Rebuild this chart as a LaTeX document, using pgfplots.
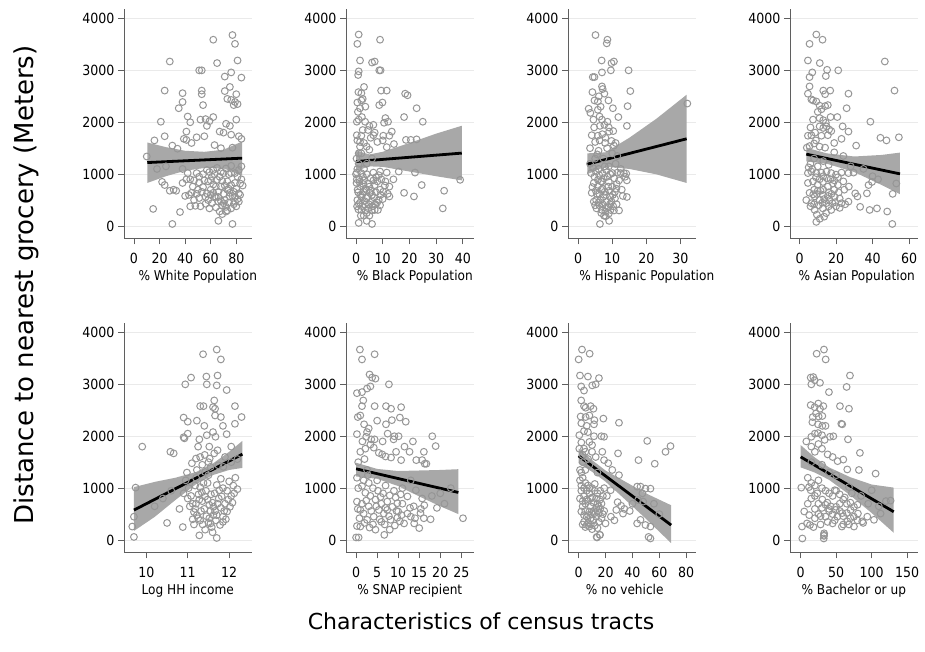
\documentclass[border=0pt]{standalone}
\usepackage{fontspec}
\setmainfont{DejaVu Sans}
\newfontfamily\tickfont[FakeStretch=0.9]{DejaVu Sans}
\usepackage{pgfplots}
\pgfplotsset{compat=1.18}
\definecolor{mk}{RGB}{150,150,150}
\definecolor{band}{RGB}{168,168,168}
\definecolor{axc}{RGB}{95,95,95}
\definecolor{grd}{RGB}{234,234,234}
\pgfplotsset{
 panel/.style={
  scale only axis, width=127.5pt, height=229.4pt, anchor=south west,
  ymin=-240, ymax=4180, ytick={0,1000,2000,3000,4000},
  axis lines*=left, axis line style={axc, line width=0.9pt, -},
  tick align=outside, major tick length=6pt, tick style={axc, line width=0.8pt},
  ymajorgrids, grid style={grd, line width=0.8pt},
  scaled ticks=false,
  /pgf/number format/1000 sep={},
  /pgf/number format/assume math mode=true,
  tick label style={font=\tickfont\fontsize{14}{16}\selectfont},
  x tick label style={yshift=-5.3pt},
  label style={font=\tickfont\fontsize{13.5}{16}\selectfont},
  xlabel style={at={(axis description cs:0.5,0)}, anchor=north, yshift=-28pt},
 },
 pts/.style={only marks, mark=o, mark size=3.4pt, mark options={draw=mk, line width=1pt}},
 bnd/.style={fill=band, draw=none},
 fit/.style={black, line width=2.8pt, no marks},
}
\begin{document}
\begin{tikzpicture}
\useasboundingbox (0,0) rectangle (925pt,652pt);
% ---------- Panel 1: White
\begin{axis}[panel, at={(124pt,413.5pt)}, xmin=-7.8, xmax=91.9, xtick={0,20,40,60,80},
  xlabel={\% White Population}, xlabel style={xshift=10pt}]
\addplot[pts] coordinates {
(77,3680)(79,3510)(62,3590)(28,3170)(81,3190)(65,3140)(51,3000)(53,3000)(76,2960)(71,2880)(84,2860)(75,2680)(24,2610)(38,2560)(53,2610)(53,2540)(71,2600)(80,2540)(73,2450)(76,2430)(79,2390)(81,2350)(78,2330)(38,2390)(35,2270)(54,2330)(42,2110)(44,2000)(21,2010)(52,2050)(56,2060)(59,2020)(62,2100)(57,1930)(72,1970)(75,1930)(80,2050)(67,1820)(70,1800)(76,1760)(41,1820)(39,1680)(41,1660)(49,1710)(55,1730)(82,1730)(24,1730)(16,1650)(10,1340)(30,1550)(63,1560)(45,1600)(34,1490)(68,1500)(77,1510)(84,1680)
(24,790)(22,850)(28,680)(33,680)(38,830)(42,1020)(44,900)(40,580)(43,600)(49,620)(51,540)(47,500)(48,390)(44,380)(36,270)(15,330)(30,40)(54,1000)(57,1080)(59,1040)(51,840)(54,750)(57,630)(60,700)(63,570)(66,660)(68,760)(58,500)(61,440)(59,340)(66,470)(67,280)(66,100)(77,40)(72,280)(70,1020)(72,1110)(76,1160)(79,1020)(81,950)(73,860)(76,790)(79,830)(82,630)(78,660)(75,570)(71,500)(79,470)(82,470)(69,400)(72,370)(76,340)(49,1020)(51,950)(41,900)(18,1100)(25,1150)(62,800)(65,890)(46,760)(84,900)(85,780)(70,620)(74,720)(80,720)(64,360)(56,430)(38,1100)(31,700)
(61,950)(63,1000)(65,1120)(67,950)(69,870)(71,780)(73,700)(75,640)(77,580)(79,560)(81,520)(83,600)(62,640)(64,560)(66,560)(68,480)(70,440)(74,450)(78,420)(80,380)(82,1080)(84,1150)(74,1000)(68,1050)(60,880)(62,1080)(55,880)(53,660)(50,700)(47,880)(45,640)(56,560)(73,300)(69,230)(60,600)(76,1020)(83,820)(64,760)(58,860)(52,380)
};
\addplot[bnd] coordinates {(10.4,1610)(25,1520)(40,1450)(55,1430)(70,1470)(84.6,1630)(84.6,975)(70,1110)(55,1118)(40,1065)(25,960)(10.4,830)};
\addplot[fit] coordinates {(10.4,1223)(84.6,1308)};
\end{axis}
% ---------- Panel 2: Black
\begin{axis}[panel, at={(346pt,413.5pt)}, xmin=-3.75, xmax=44, xtick={0,10,20,30,40},
  xlabel={\% Black Population}, xlabel style={xshift=5pt}]
\addplot[pts] coordinates {
(1,3690)(0.5,3510)(9,3590)(1.5,3190)(6,3150)(7,3170)(1,2980)(0.8,2910)(8.7,3000)(9.2,3000)(3,2680)(0.9,2580)(2,2560)(9.4,2610)(11.5,2610)(18.4,2550)(19.3,2520)(0.5,2380)(2,2420)(2.5,2450)(1.5,2270)(8.7,2330)(9.9,2380)(22.7,2270)(1,2050)(0.3,2010)(3.4,2010)(5,1930)(6.5,1950)(11,2080)(12,2010)(10.5,1990)(18,2100)(25,2010)(0.3,1750)(2,1740)(6.5,1750)(10.2,1740)(12.5,1740)(13.4,1820)(14.2,1580)(18.7,1660)(20.5,1660)(22.7,1670)(1.5,1530)(4,1530)(5,1470)(0.5,1650)(3,1600)(8,1620)(0.2,1300)(1,1200)(2,1400)(3,1100)(0,1000)
(0.3,1030)(2,1020)(4,1000)(6.5,1030)(9,1050)(11.5,1030)(22.1,1030)(0.2,830)(1.5,760)(2.7,810)(5,760)(7,790)(9,700)(10.2,660)(11.9,620)(12.5,570)(18,640)(21.7,570)(24.6,790)(33,680)(39,890)(32.5,340)(0.5,500)(1.5,450)(3.4,410)(4.6,340)(5.9,300)(2,310)(4,250)(7,310)(8.2,310)(6,470)(8.5,500)(10,520)(1,60)(4,100)(6,40)(0.8,650)(2.4,610)(4,690)(6,600)(7.5,650)(1.2,900)(3,880)(5.5,920)(8,860)(2,560)(3.8,540)(0.4,380)(1.8,200)(5,200)(9,400)(11,860)(14,900)(16,1050)
(0.5,1100)(1,1400)(1.5,1620)(2.5,1850)(0.7,2200)(2.2,2100)(3.5,2300)(4.5,1850)(5.5,1700)(7,1800)(0.3,900)(1.3,850)(2.6,950)(3.5,720)(4.5,820)(5.5,680)(6.5,880)(7.5,940)(8.5,980)(9.5,900)(0.6,700)(1.6,600)(2.8,660)(3.2,480)(4.3,560)(5.2,640)(6.8,550)(7.9,450)(9.2,600)(1.1,420)(2.3,380)(3.6,300)(4.8,420)(6.2,380)(7.2,420)(0.9,320)(2.9,200)(10.8,780)(12.5,760)(10,1650)(11.5,1520)(6,1300)(4,1200)
};
\addplot[bnd] coordinates {(0,1450)(5,1380)(10,1430)(20,1600)(30,1780)(39.6,1932)(39.6,880)(30,960)(20,1050)(10,1140)(5,1150)(0,1060)};
\addplot[fit] coordinates {(0,1243)(39.6,1405)};
\end{axis}
% ---------- Panel 3: Hispanic
\begin{axis}[panel, at={(568pt,413.5pt)}, xmin=-2.95, xmax=34.4, xtick={0,10,20,30},
  xlabel={\% Hispanic Population}, xlabel style={xshift=15pt}]
\addplot[pts] coordinates {
(5.1,3680)(8.6,3590)(8.4,3520)(6.9,3190)(9.8,3140)(10.5,3170)(7,2960)(9.6,3000)(14.8,3000)(4.3,2870)(4.8,2870)(7,2690)(7.2,2640)(7.7,2550)(15.3,2600)(4.2,2580)(4.8,2420)(5.8,2400)(6.1,2500)(8.9,2420)(14.5,2310)(3.1,2260)(3.6,2180)(5.8,2240)(6.3,2110)(10.2,2270)(11.8,2100)(32,2360)(4.5,2050)(7,2050)(7.7,1950)(8.6,2010)(6.4,1930)(14.3,1930)(4,1750)(5.8,1740)(7.1,1770)(9.1,1820)(10.3,1830)(5,1620)(6.3,1650)(7.9,1600)(9.8,1640)(11,1600)(3.5,1500)(6,1450)(8.5,1500)(10,1400)
(3.8,1020)(4.8,950)(5.8,890)(7.2,1010)(8.6,950)(10.1,1020)(11.5,1030)(12.5,1020)(13.4,1020)(14.1,1010)(14.3,880)(4.6,830)(5.8,760)(6.8,700)(7.8,660)(8.8,760)(10,760)(10.8,660)(9.4,560)(7.4,560)(6.5,500)(8.4,470)(9.8,470)(10.8,530)(5.3,500)(13.1,580)(14.3,560)(4.6,470)(5.4,340)(7,310)(8,280)(9.5,310)(10.5,300)(8.9,370)(6.4,40)(9.1,100)(3.5,1200)(5,1300)(6,1100)(9,1150)(11,1200)(12,880)(4,640)(5.5,620)(7,860)(9,850)(11.3,810)(6.2,400)(8.1,190)(12,300)
(4.4,1120)(5.2,1050)(6.2,980)(7.5,920)(8.2,1080)(9.4,1000)(10.6,920)(4.2,750)(5.2,680)(6.2,620)(7.2,720)(8.2,600)(9.1,680)(10.2,600)(11.2,720)(5,400)(6,450)(7.2,420)(8.2,350)(9.3,420)(10.3,380)(11.3,420)(6.8,250)(7.6,200)(9,240)(5.6,1380)(7.4,1300)(8,1700)(9,1900)(10.5,1550)(4.7,1900)(6.6,2300)(11.5,1350)(12.5,1100)(13.8,950)(12.8,700)(7.8,1150)(6.7,860)
};
\addplot[bnd] coordinates {(2.7,1400)(8,1420)(15,1700)(23,2070)(31.8,2530)(31.8,830)(23,995)(15,1100)(8,1145)(2.7,1000)};
\addplot[fit] coordinates {(2.7,1192)(31.8,1681)};
\end{axis}
% ---------- Panel 4: Asian
\begin{axis}[panel, at={(790pt,413.5pt)}, xmin=-5.2, xmax=64.6, xtick={0,20,40,60},
  xlabel={\% Asian Population}, xlabel style={xshift=3pt}]
\addplot[pts] coordinates {
(9.2,3690)(12.6,3590)(5.5,3510)(4.6,3190)(11.1,3140)(46.7,3170)(7,2960)(5.5,2870)(15.1,3010)(21.2,3000)(14.4,2890)(5.5,2690)(4.6,2550)(6.5,2440)(13,2610)(14,2540)(16.8,2610)(26.8,2550)(52,2610)(7.4,2420)(9.2,2400)(11,2320)(14,2310)(15.5,2330)(25.8,2270)(7.4,2050)(11,2080)(13,2040)(14.4,1990)(20.7,2100)(23.6,1920)(26.8,1820)(38.8,2010)(11,1920)(13,1890)(14.8,1920)(16.2,1860)(4.6,1740)(6.5,1750)(12,1740)(15.5,1750)(17.4,1830)(23,1680)(31,1550)(44.3,1700)(47.6,1650)(54.4,1710)(4,1510)(5.5,1540)(8,1590)(11,1530)(14,1510)(9,1650)(19,1600)
(4.6,1020)(6.5,1050)(9.2,1020)(12,1030)(14.8,1050)(17.4,1020)(20,990)(23,1030)(26.8,1020)(29.6,1030)(37.8,790)(39.7,850)(4.6,830)(7.4,860)(10,800)(12.8,850)(15.5,760)(18.3,820)(21,790)(24,860)(30.5,630)(31.7,570)(36.9,630)(3.7,500)(6.5,440)(8.3,570)(11,500)(12.8,600)(14.6,440)(16.5,500)(19.2,560)(22,530)(23,440)(26.8,470)(33.2,370)(38.4,310)(42.4,340)(48,280)(8.3,310)(12.8,340)(14.6,250)(17.4,310)(20,380)(9.2,80)(11.1,140)(50.8,40)(6,1200)(8,1300)(10,1150)(13,1250)(16,1180)(10,680)(13,700)(16,650)(19,700)(8,700)(43,900)(51,620)(53,820)
(5,1130)(7,1100)(9,940)(11,900)(13,960)(15,920)(17,900)(19,880)(21,940)(5.5,640)(7.5,610)(9.5,620)(11.5,680)(13.5,520)(15.5,580)(17.5,620)(19.5,460)(21.5,650)(24.5,700)(27,760)(6,380)(8,420)(10.5,400)(12.5,450)(16,380)(18,440)(22,350)(25,420)(9.5,220)(13.5,180)(6,1900)(8.5,1800)(10,2200)(12,2250)(17,2100)(19,1420)(24,1350)(28,1150)(35,1100)(40,960)
};
\addplot[bnd] coordinates {(3.7,1510)(15,1400)(30,1340)(45,1370)(55,1415)(55,615)(45,790)(30,1040)(15,1200)(3.7,1245)};
\addplot[fit] coordinates {(3.7,1385)(55,1005)};
\end{axis}
% ---------- Panel 5: Log HH income
\begin{axis}[panel, at={(124pt,99.5pt)}, xmin=9.46, xmax=12.54, xtick={10,11,12},
  xlabel={Log HH income}]
\addplot[pts] coordinates {
(11.37,3580)(11.70,3670)(11.80,3480)(11.08,3130)(10.94,3000)(11.45,3150)(11.46,3000)(11.72,3170)(11.70,2980)(11.94,2890)(11.30,2580)(11.38,2580)(11.61,2560)(11.66,2530)(11.64,2690)(12.14,2580)(10.90,2360)(11.00,2280)(11.22,2300)(11.66,2400)(11.80,2370)(12.14,2240)(12.30,2370)(10.90,1980)(10.92,1960)(11.28,1940)(11.46,2020)(11.61,2080)(11.67,1990)(11.94,2040)(9.90,1800)(10.58,1700)(10.66,1670)(11.20,1570)(11.30,1600)(11.41,1640)(11.53,1570)(11.64,1670)(11.72,1730)(10.98,1300)(11.22,1350)(11.42,1310)(11.55,1410)(11.74,1440)(11.86,1410)(12.05,1500)(12.2,1560)(11.1,1480)(11.35,1450)(11.5,1500)
(9.74,1010)(9.70,450)(9.66,260)(9.70,60)(10.50,330)(10.88,250)(11.28,90)(11.70,40)(10.9,900)(11.0,800)(11.05,650)(11.15,540)(11.2,700)(11.26,880)(11.3,1020)(11.35,750)(11.4,600)(11.45,460)(11.5,330)(11.55,560)(11.6,720)(11.65,900)(11.7,1060)(11.75,800)(11.8,620)(11.85,450)(11.9,700)(11.95,950)(12.0,1130)(12.05,850)(12.1,1050)(12.15,1200)(12.2,980)(11.25,420)(11.36,300)(11.12,400)(11.48,1100)(11.58,250)(11.62,480)(11.68,380)(11.78,290)(11.42,840)(11.32,560)(11.18,1050)(10.95,1150)(10.8,600)(10.6,950)(10.4,800)(10.2,650)(11.85,1000)(11.95,550)(11.52,680)
(11.02,1000)(11.08,850)(11.12,700)(11.18,600)(11.22,480)(11.28,780)(11.34,920)(11.38,1100)(11.44,950)(11.48,780)(11.52,420)(11.56,880)(11.62,640)(11.66,560)(11.72,700)(11.76,960)(11.82,840)(11.88,560)(11.92,400)(11.98,780)(12.02,640)(12.08,720)(12.12,900)(11.15,300)(11.3,380)(11.42,200)(11.55,320)(11.7,480)(11.85,350)(11.6,150)(11.2,1200)(11.5,1250)(11.8,1180)(11.9,1600)(12.05,1800)(11.52,1800)(11.25,1800)(11.0,2050)(11.4,2200)(11.85,2200)
};
\addplot[bnd] coordinates {(9.7,1020)(10.2,1120)(10.7,1200)(11.2,1310)(11.6,1470)(12.0,1700)(12.32,1910)(12.32,1390)(12.0,1350)(11.6,1250)(11.2,1075)(10.7,770)(10.2,445)(9.7,175)};
\addplot[fit] coordinates {(9.7,577)(12.32,1654)};
\end{axis}
% ---------- Panel 6: SNAP
\begin{axis}[panel, at={(346pt,99.5pt)}, xmin=-2.4, xmax=27.9, xtick={0,5,10,15,20,25},
  xlabel={\% SNAP recipient}]
\addplot[pts] coordinates {
(0.9,3670)(1.4,3480)(4.4,3580)(3.2,3190)(3.8,3130)(4.6,3110)(3.4,2960)(2.6,2920)(0.2,2830)(1.4,2850)(7.8,3000)(1.7,2690)(1.4,2580)(4.4,2580)(7.1,2580)(8.3,2530)(10.7,2560)(0.4,2370)(1,2400)(1.9,2230)(7.1,2230)(8.5,2310)(10.4,2360)(11.8,2280)(0.2,2040)(2.6,2080)(2.4,1990)(3.6,1940)(4.4,1940)(9.1,2000)(10.1,2000)(8.9,1940)(18.1,2000)(18.9,1810)(16.1,1700)(15.7,1540)(16.3,1470)(16.7,1470)(1,1700)(2.2,1760)(3.4,1840)(4.2,1780)(5.4,1680)(6.2,1650)(7,1610)(8.3,1590)(10.7,1540)(12.7,1700)(14.3,1540)(0.5,1500)(2,1560)
(0.2,1200)(1.4,1040)(2.2,910)(3.4,850)(4.6,780)(5.8,830)(7.4,740)(9.8,710)(12.2,840)(13.7,650)(15.3,520)(16.1,420)(17.7,400)(19.2,620)(14.2,960)(15.7,800)(25.4,420)(0.2,740)(1,580)(1.8,510)(2.6,390)(4.2,450)(5.4,580)(6.6,510)(7.4,580)(8.2,390)(9.8,430)(11.4,320)(12.2,510)(13.8,320)(15,230)(15.4,600)(16.2,670)(0.2,270)(1,260)(0,50)(0.6,50)(6.7,100)(3,1100)(5,1150)(7,1050)(9,950)(11,1000)(20,900)(21,700)(22.5,1000)(3,650)(4,300)(6,350)(8,200)(10,550)(11,700)(13,450)(18,850)
(0.5,1000)(1.8,1150)(2.8,1250)(4,1000)(5.2,950)(6.4,900)(8,860)(9.4,820)(10.6,880)(0.4,600)(1.4,700)(2.4,760)(3.6,560)(4.8,650)(6,700)(7,620)(8.6,640)(9.6,560)(10.8,480)(0.8,420)(2,330)(3.2,240)(4.6,200)(5.6,400)(6.8,300)(7.8,460)(9.2,280)(10.4,360)(12.8,620)(14,420)(13,1150)(1.5,1900)(3,2150)(5,2300)(6.3,1900)(7.5,2050)(9.5,1700)(11.5,1800)(13.5,1900)(2.6,1350)
};
\addplot[bnd] coordinates {(0,1490)(5,1370)(10,1330)(15,1340)(20,1350)(24.3,1365)(24.3,500)(20,650)(15,840)(10,1040)(5,1180)(0,1225)};
\addplot[fit] coordinates {(0,1372)(24.3,917)};
\end{axis}
% ---------- Panel 7: no vehicle
\begin{axis}[panel, at={(568pt,99.5pt)}, xmin=-7.9, xmax=86.9, xtick={0,20,40,60,80},
  xlabel={\% no vehicle}, xlabel style={xshift=-7pt}]
\addplot[pts] coordinates {
(2.5,3670)(8.2,3590)(0,3480)(1,3170)(6.9,3150)(15.1,3120)(1.9,2960)(10.1,2980)(12.7,3000)(4,2880)(1.9,2690)(4,2580)(5.2,2550)(8.9,2580)(11,2530)(1.5,2380)(5.2,2370)(11.7,2310)(11.4,2230)(18.4,2340)(30,2260)(0.5,2020)(6.9,2080)(11.4,2000)(16.9,2000)(18.9,1990)(8,1890)(10,1830)(4,1760)(51,1910)(0.5,1760)(5,1700)(10,1700)(12.7,1600)(17.6,1700)(18.9,1540)(29.3,1670)(44.5,1540)(56.6,1470)(64.6,1700)(68.3,1810)(2,1880)(3,1640)(7,1560)(22,1480)(25,1350)(2,1300)(30,1250)
(1,1350)(3,1200)(5,1100)(7,1050)(2,950)(4,850)(6,780)(8,900)(10,820)(12,950)(14,700)(9,650)(11,560)(13,620)(15,520)(16,780)(3,650)(5,560)(7,480)(9,420)(11,380)(13,450)(15,350)(17,420)(19,560)(4,350)(6,290)(8,260)(10,210)(23.8,960)(29,730)(31.6,660)(34,600)(28,580)(33,510)(24,450)(26.6,380)(43.5,1030)(46,1030)(49.7,990)(53.4,990)(47.4,900)(44.2,770)(48,740)(46,390)(43.5,320)(53.4,260)(49.7,290)(52,60)(13.4,60)(15.9,100)(15.7,100)(13.7,50)(53.4,30)(20,320)(40,700)(38,560)(56,700)(60,500)(19,1000)(21,850)
(1,1150)(2,1050)(4,1000)(6,950)(8,1000)(10,1000)(12,1080)(14,900)(16,950)(18,850)(1,800)(3,750)(5,700)(7,750)(9,800)(11,720)(13,800)(15,650)(17,700)(2,550)(4,480)(6,450)(8,550)(10,500)(12,520)(14,560)(16,600)(18,500)(3,300)(5,250)(7,330)(9,300)(12,280)(14,230)(2,2250)(4,2100)(6,2200)(8,2400)(3,1500)(5,1350)(8,1450)(14,1300)
};
\addplot[bnd] coordinates {(0,1765)(10,1540)(20,1340)(35,1120)(50,900)(68.8,670)(68.8,-60)(50,410)(35,770)(20,1125)(10,1315)(0,1480)};
\addplot[fit] coordinates {(0,1622)(68.8,288)};
\end{axis}
% ---------- Panel 8: Bachelor
\begin{axis}[panel, at={(790pt,99.5pt)}, xmin=-15, xmax=164.5, xtick={0,50,100,150},
  xlabel={\% Bachelor or up}]
\addplot[pts] coordinates {
(22.5,3590)(32.8,3670)(35.2,3480)(14.1,3130)(17.8,3140)(15,3000)(27.2,3030)(19.7,3080)(39.8,2850)(69.4,3170)(64.7,2950)(14.1,2600)(19.7,2560)(24.8,2630)(27.2,2530)(31.9,2580)(55.3,2580)(68,2530)(57.2,2240)(58.5,2230)(17,2370)(21.6,2440)(25.3,2380)(30.5,2390)(16.5,2270)(24.4,2230)(30.5,2200)(15,1990)(24.4,2060)(30,2020)(33.8,1930)(41.3,1990)(46,2000)(66.6,1940)(83.4,1680)(82,1350)(105.5,1280)(65.6,1360)(15,1800)(20,1700)(30,1760)(38,1650)(45,1600)(52,1520)(60,1550)(25,1850)(8,1900)
(0.9,1010)(11.7,1020)(14.1,960)(23.4,900)(30.5,780)(37.5,720)(42.2,650)(49.2,580)(51.6,450)(58.6,520)(65.6,360)(70.3,580)(75,450)(80.6,510)(86.7,360)(93.8,450)(103.2,390)(112.5,510)(126.6,760)(8.9,320)(1.9,260)(13.1,290)(32.8,100)(2.4,30)(32.8,80)(33,130)(32.5,30)(18,250)(28,300)(45,320)(60,300)(75,260)(88,330)(20,600)(25,500)(35,450)(40,560)(55,700)(62,820)(72,900)(85,850)(95,700)(110,650)(120,750)(10,700)(5,550)(48,960)(68,1020)(100,960)
(10,1200)(15,1100)(20,1050)(25,1150)(30,1000)(35,950)(40,900)(45,850)(50,950)(55,880)(60,780)(65,700)(70,720)(75,640)(80,680)(15,800)(20,850)(25,700)(30,620)(35,680)(40,600)(45,500)(50,640)(55,560)(60,460)(65,520)(70,420)(80,380)(12,480)(20,420)(28,460)(38,350)(48,380)(58,260)(68,300)(15,1500)(30,1450)(40,1300)(50,1250)(20,2050)(35,2200)
};
\addplot[bnd] coordinates {(0,1830)(20,1590)(40,1400)(70,1210)(100,1070)(131,1010)(131,140)(100,520)(70,860)(40,1160)(20,1300)(0,1400)};
\addplot[fit] coordinates {(0,1602)(131,545)};
\end{axis}
\node[anchor=base, font=\fontsize{22}{26}\selectfont] at (481pt,22pt) {Characteristics of census tracts};
\node[anchor=base, rotate=90, font=\fontsize{26}{30}\selectfont] at (33pt,367pt) {Distance to nearest grocery (Meters)};
\end{tikzpicture}
\end{document}
